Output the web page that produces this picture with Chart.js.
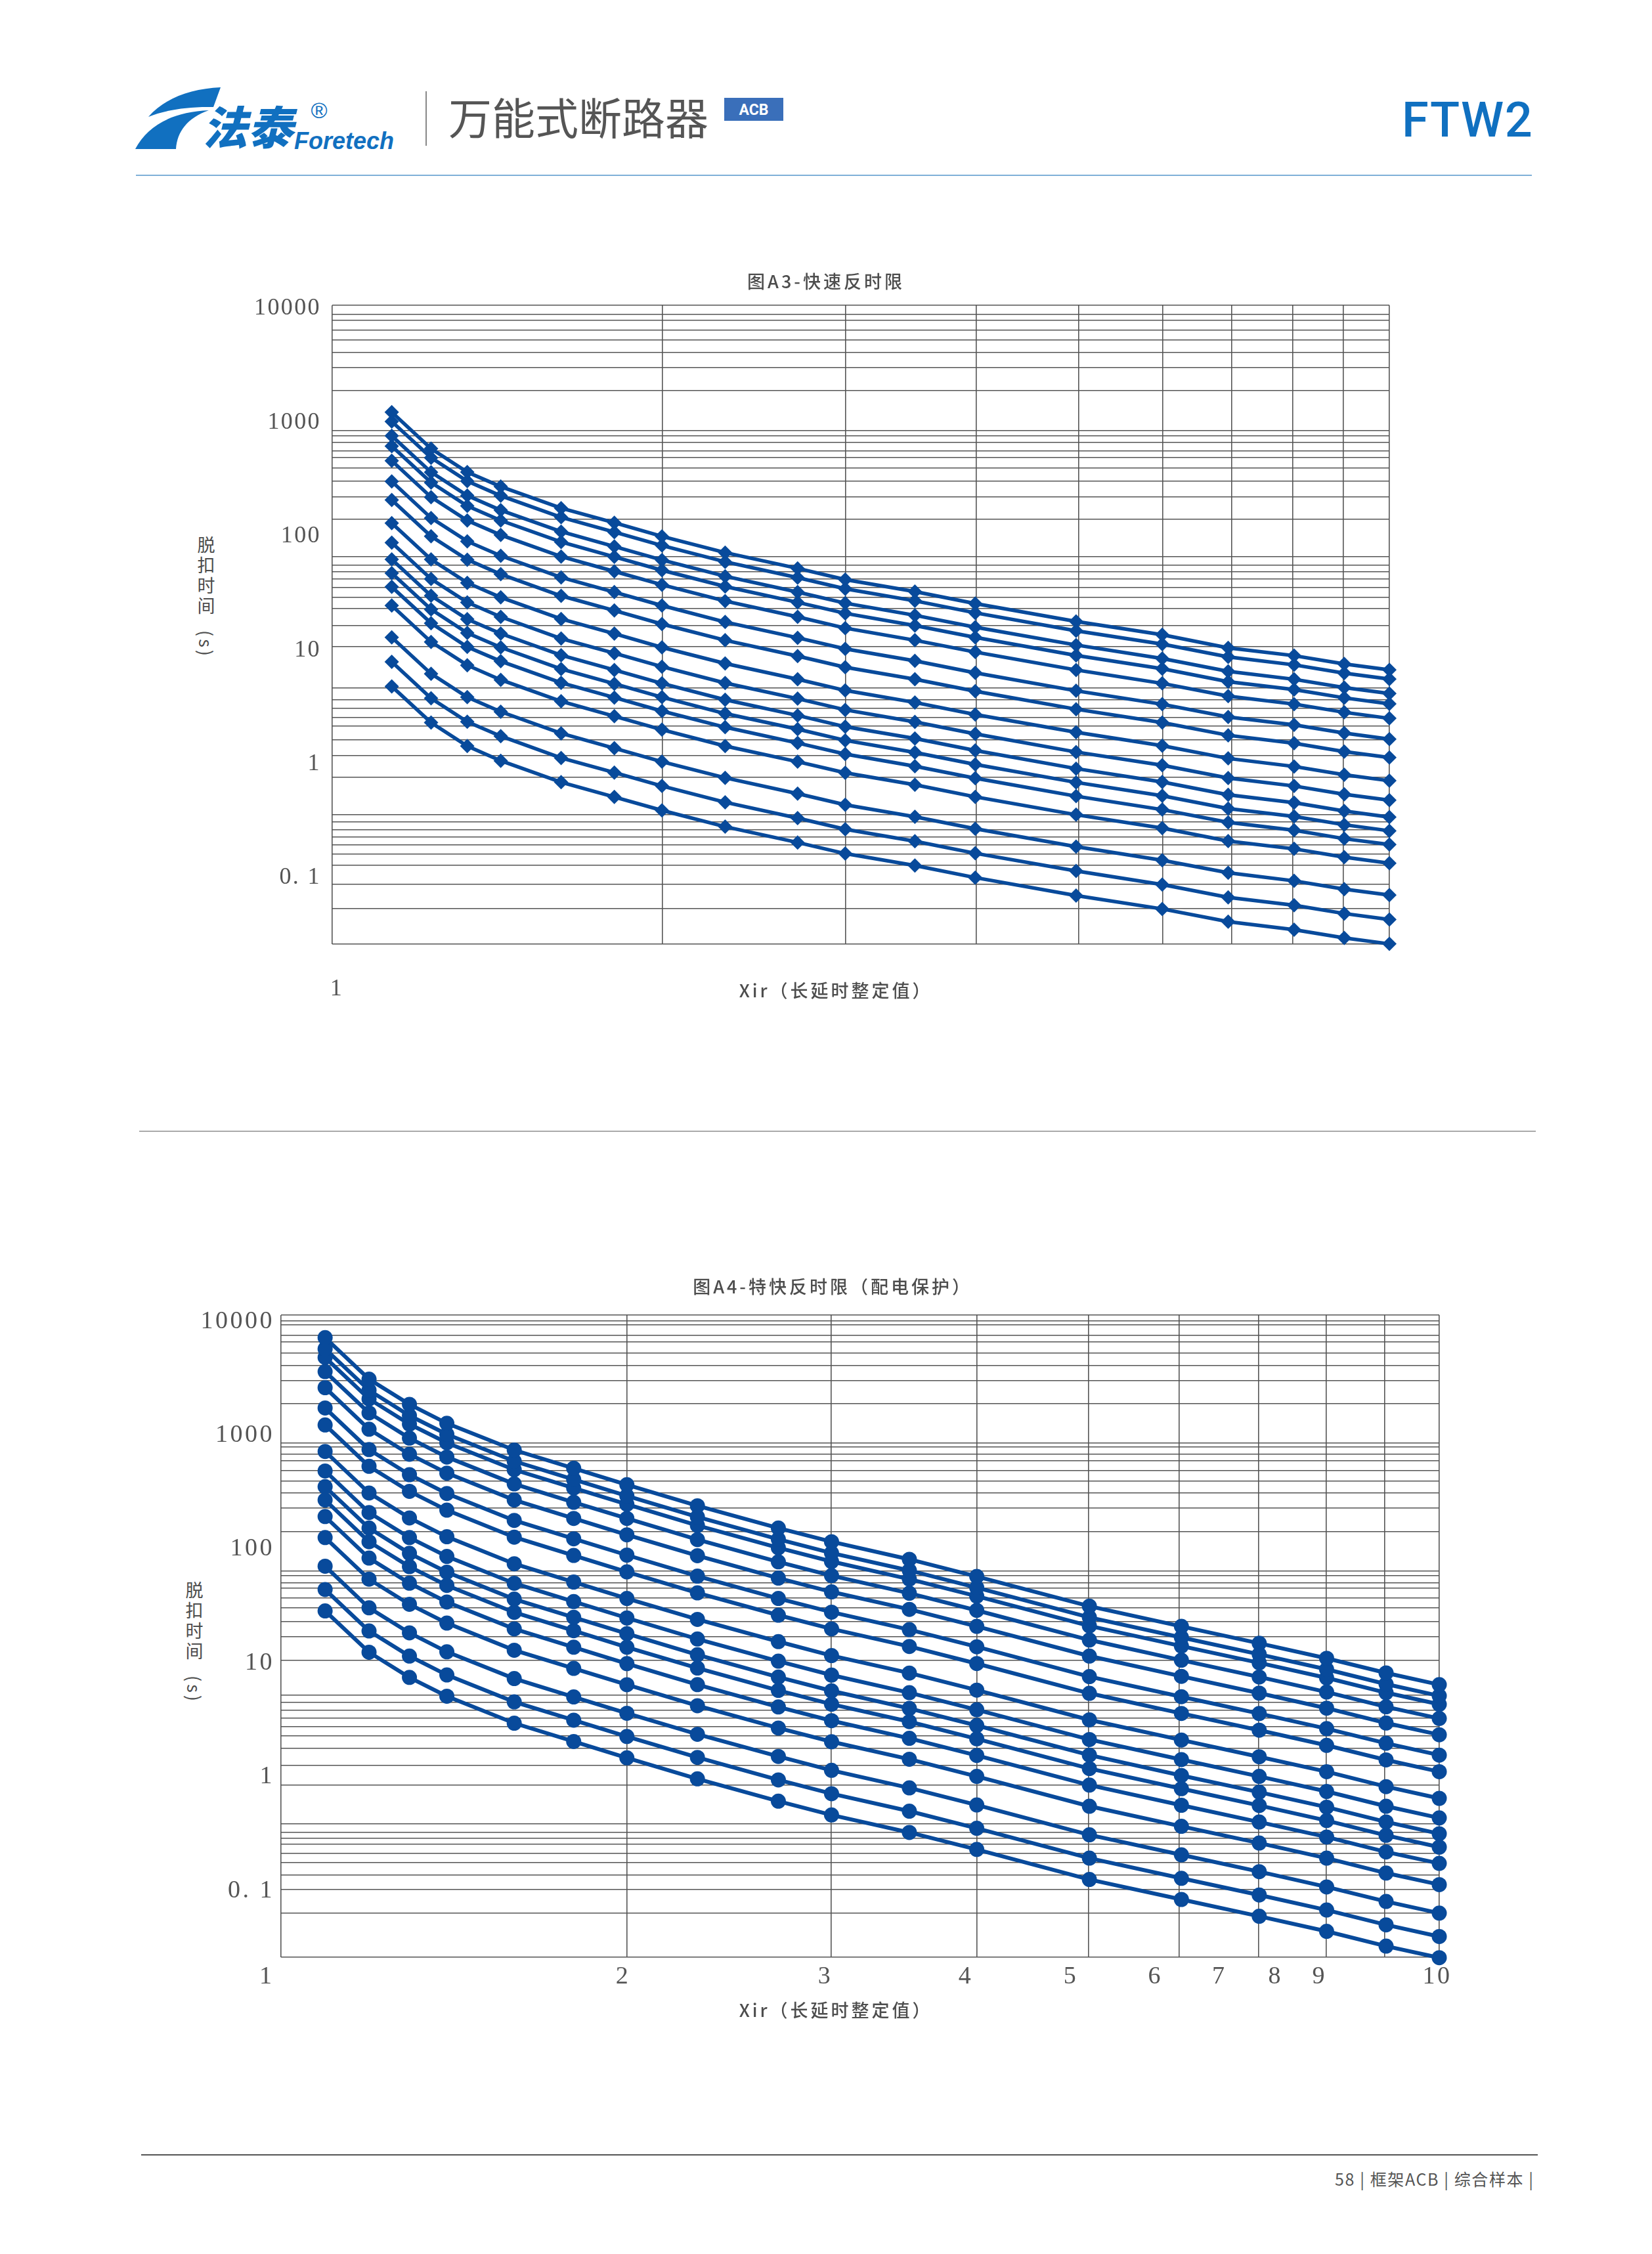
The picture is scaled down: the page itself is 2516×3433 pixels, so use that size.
<!DOCTYPE html>
<html lang="zh">
<head>
<meta charset="utf-8">
<title>FTW2 万能式断路器</title>
<script src="https://cdn.jsdelivr.net/npm/chart.js@4"></script>
<style>
  html, body { margin: 0; background: #fff; }
  #page { position: relative; width: 2516px; height: 3433px; overflow: hidden; }
  #page svg { position: absolute; left: 0; top: 0; }
  canvas { position: absolute; left: 0; }
</style>
</head>
<body>
<div id="page">
  <svg width="2516" height="3433" font-family="'Noto Sans CJK SC'">
    <!-- header -->
    <path d="M336 133 L325 163 C285 162 250 168 226 178 C250 150 290 135 336 133 Z" fill="#1170c0"/>
    <path d="M206 227 C225 190 265 170 318 168 C285 180 270 200 268 227 Z" fill="#1170c0"/>
    <text x="308" y="220" font-size="69" font-weight="900" font-style="italic" fill="#1170c0">法泰</text>
    <text x="448" y="227" font-size="36" font-weight="700" font-style="italic" font-family="'Liberation Sans'" fill="#1170c0">Foretech</text>
    <text x="486" y="180" font-size="34" text-anchor="middle" font-family="'Liberation Sans'" fill="#1170c0">®</text>
    <line x1="649" y1="139" x2="649" y2="222" stroke="#888" stroke-width="2"/>
    <text x="683" y="205" font-size="66" fill="#555">万能式断路器</text>
    <rect x="1103" y="149" width="90" height="35" fill="#3a6fba"/>
    <text x="1148" y="175" font-size="23" font-weight="700" text-anchor="middle" font-family="Roboto" fill="#fff">ACB</text>
    <text x="2135" y="208" font-size="74" font-weight="500" letter-spacing="1.5" font-family="Roboto" fill="#1070c0">FTW2</text>
    <line x1="207" y1="267" x2="2333" y2="267" stroke="#7fb0d8" stroke-width="2"/>
    <line x1="212" y1="1723" x2="2339" y2="1723" stroke="#aaa" stroke-width="2"/>
    <!-- vertical y axis titles -->
    <text x="314" y="816" font-size="27" letter-spacing="4" fill="#4d4d4d" style="white-space:pre;writing-mode:vertical-rl">脱扣时间  (s)</text>
    <text x="296" y="2408" font-size="27" letter-spacing="4" fill="#4d4d4d" style="white-space:pre;writing-mode:vertical-rl">脱扣时间  (s)</text>
    <!-- footer -->
    <line x1="215" y1="3282" x2="2342" y2="3282" stroke="#555" stroke-width="2"/>
    <text x="2033" y="3329" font-size="25" letter-spacing="1.6" fill="#555">58 | 框架ACB | 综合样本 |</text>
  </svg>
  <canvas id="chartA3" width="2516" height="1130" style="top:400px"></canvas>
  <canvas id="chartA4" width="2516" height="1150" style="top:1930px"></canvas>
</div>
<script>
// X values shared by reading: multiples of the long-delay setting
const a3X = [1.1, 1.2, 1.3, 1.4, 1.6, 1.8, 2, 2.3, 2.7, 3, 3.5, 4, 5, 6.05, 7, 8.1, 9.05, 10];
const a4X = [1.1, 1.2, 1.3, 1.4, 1.6, 1.8, 2, 2.3, 2.7, 3, 3.5, 4, 5, 6, 7, 8, 9, 10];

// Fig. A3 trip times, top curve to bottom curve (s)
const a3T1 = [1200, 574, 357, 266, 172, 128, 97.2, 70, 50.9, 40.6, 31.8, 25, 17.4, 13.3, 10.2, 8.71, 7.37, 6.53];
const a3T2 = [993, 477, 297, 221, 143, 106, 80.8, 58.1, 42.2, 33.7, 26.4, 20.7, 14.4, 11, 8.49, 7.23, 6.12, 5.42];
const a3T3 = [742, 356, 222, 165, 107, 79.2, 60.3, 43.4, 31.5, 25.2, 19.7, 15.5, 10.8, 8.22, 6.34, 5.4, 4.57, 4.05];
const a3T4 = [603, 289, 180, 134, 86.8, 64.3, 49, 35.3, 25.6, 20.5, 16, 12.6, 8.76, 6.68, 5.15, 4.39, 3.71, 3.29];
const a3T5 = [449, 215, 134, 99.9, 64.6, 47.9, 36.5, 26.3, 19.1, 15.2, 11.9, 9.37, 6.52, 4.97, 3.84, 3.27, 2.77, 2.45];
const a3T6 = [295, 141, 88, 65.6, 42.4, 31.5, 24, 17.2, 12.5, 10, 7.84, 6.15, 4.28, 3.26, 2.52, 2.15, 1.82, 1.61];
const a3T7 = [203, 97.5, 60.7, 45.2, 29.2, 21.7, 16.5, 11.9, 8.64, 6.89, 5.41, 4.24, 2.95, 2.25, 1.74, 1.48, 1.25, 1.11];
const a3T8 = [127, 61, 38, 28.3, 18.3, 13.6, 10.3, 7.44, 5.41, 4.31, 3.38, 2.65, 1.85, 1.41, 1.09, 0.926, 0.783, 0.694];
const a3T9 = [85.7, 41.1, 25.6, 19.1, 12.3, 9.15, 6.97, 5.01, 3.65, 2.91, 2.28, 1.79, 1.24, 0.95, 0.733, 0.624, 0.528, 0.468];
const a3T10 = [61.1, 29.3, 18.2, 13.6, 8.79, 6.52, 4.97, 3.57, 2.6, 2.07, 1.63, 1.28, 0.887, 0.677, 0.522, 0.445, 0.376, 0.333];
const a3T11 = [46.2, 22.2, 13.8, 10.3, 6.65, 4.93, 3.76, 2.7, 1.97, 1.57, 1.23, 0.965, 0.671, 0.512, 0.395, 0.337, 0.285, 0.252];
const a3T12 = [35, 16.8, 10.4, 7.78, 5.03, 3.73, 2.84, 2.05, 1.49, 1.19, 0.931, 0.73, 0.508, 0.387, 0.299, 0.255, 0.215, 0.191];
const a3T13 = [24, 11.5, 7.18, 5.34, 3.46, 2.56, 1.95, 1.4, 1.02, 0.815, 0.639, 0.501, 0.349, 0.266, 0.205, 0.175, 0.148, 0.131];
const a3T14 = [12.6, 6.04, 3.76, 2.8, 1.81, 1.34, 1.02, 0.736, 0.535, 0.427, 0.335, 0.263, 0.183, 0.139, 0.108, 0.0916, 0.0775, 0.0687];
const a3T15 = [7.68, 3.68, 2.29, 1.71, 1.1, 0.819, 0.624, 0.449, 0.326, 0.26, 0.204, 0.16, 0.112, 0.085, 0.0656, 0.0559, 0.0473, 0.0419];
const a3T16 = [4.68, 2.25, 1.4, 1.04, 0.674, 0.5, 0.381, 0.274, 0.199, 0.159, 0.125, 0.0978, 0.068, 0.0519, 0.0401, 0.0341, 0.0289, 0.0256];

// Fig. A4 trip times, top curve to bottom curve (s)
const a4T1 = [7010, 3030, 1820, 1240, 722, 499, 358, 234, 149, 113, 79.2, 56, 30.7, 20.4, 14.5, 10.7, 7.96, 6.28];
const a4T2 = [5590, 2420, 1450, 993, 576, 398, 286, 187, 119, 90, 63.2, 44.7, 24.5, 16.3, 11.6, 8.56, 6.35, 5.01];
const a4T3 = [4700, 2030, 1220, 836, 485, 335, 241, 157, 100, 75.8, 53.1, 37.6, 20.6, 13.7, 9.76, 7.2, 5.34, 4.22];
const a4T4 = [3530, 1530, 919, 627, 364, 251, 181, 118, 75.2, 56.9, 39.9, 28.2, 15.5, 10.3, 7.33, 5.41, 4.01, 3.17];
const a4T5 = [2550, 1100, 663, 453, 263, 181, 130, 85.2, 54.2, 41, 28.8, 20.4, 11.2, 7.43, 5.29, 3.9, 2.89, 2.28];
const a4T6 = [1690, 729, 439, 300, 174, 120, 86.3, 56.4, 35.9, 27.2, 19.1, 13.5, 7.39, 4.92, 3.5, 2.58, 1.92, 1.51];
const a4T7 = [1200, 520, 313, 214, 124, 85.6, 61.5, 40.2, 25.6, 19.4, 13.6, 9.62, 5.27, 3.51, 2.5, 1.84, 1.37, 1.08];
const a4T8 = [702, 303, 183, 125, 72.4, 50, 35.9, 23.5, 15, 11.3, 7.94, 5.62, 3.08, 2.05, 1.46, 1.08, 0.798, 0.63];
const a4T9 = [473, 204, 123, 84, 48.8, 33.7, 24.2, 15.8, 10.1, 7.62, 5.34, 3.78, 2.07, 1.38, 0.982, 0.724, 0.537, 0.424];
const a4T10 = [344, 149, 89.4, 61.1, 35.4, 24.5, 17.6, 11.5, 7.32, 5.54, 3.88, 2.75, 1.51, 1, 0.714, 0.527, 0.391, 0.308];
const a4T11 = [263, 113, 68.3, 46.7, 27.1, 18.7, 13.4, 8.78, 5.59, 4.23, 2.97, 2.1, 1.15, 0.766, 0.545, 0.402, 0.298, 0.235];
const a4T12 = [188, 81.2, 48.9, 33.4, 19.4, 13.4, 9.61, 6.28, 4, 3.03, 2.12, 1.5, 0.823, 0.548, 0.39, 0.288, 0.213, 0.169];
const a4T13 = [123, 53, 31.9, 21.8, 12.6, 8.73, 6.27, 4.1, 2.61, 1.98, 1.39, 0.982, 0.537, 0.358, 0.255, 0.188, 0.139, 0.11];
const a4T14 = [68.9, 29.7, 17.9, 12.2, 7.1, 4.9, 3.52, 2.3, 1.47, 1.11, 0.778, 0.551, 0.301, 0.201, 0.143, 0.105, 0.0782, 0.0618];
const a4T15 = [43, 18.6, 11.2, 7.64, 4.43, 3.06, 2.2, 1.44, 0.915, 0.692, 0.486, 0.344, 0.188, 0.125, 0.0892, 0.0658, 0.0488, 0.0385];
const a4T16 = [27.9, 12.1, 7.27, 4.97, 2.88, 1.99, 1.43, 0.935, 0.595, 0.45, 0.316, 0.224, 0.122, 0.0815, 0.058, 0.0428, 0.0317, 0.0251];

const a3Series = [a3T1, a3T2, a3T3, a3T4, a3T5, a3T6, a3T7, a3T8, a3T9, a3T10, a3T11, a3T12, a3T13, a3T14, a3T15, a3T16];
const a4Series = [a4T1, a4T2, a4T3, a4T4, a4T5, a4T6, a4T7, a4T8, a4T9, a4T10, a4T11, a4T12, a4T13, a4T14, a4T15, a4T16];

// Axis ranges
const a3XRange = [0.9643, 10];
const a3YRange = [0.025604, 10406];
const a4XRange = [1.008, 10];
const a4YRange = [0.025333, 11062];

// The printed grid does not line up with the printed tick labels, so both are kept as read
const a3XGrid = [0.9643, 2.003, 3.004, 4.007, 5.03, 6.06, 7.05, 8.08, 9.03, 10];
const a4XGrid = [1.008, 2, 2.998, 4, 4.99, 5.97, 6.99, 7.99, 8.97, 10];
const a3YGrid = [10406, 8652, 7647, 6266, 5155, 4011, 2963, 1862, 827, 737.8, 652.1, 545.1, 477.3, 385.4, 296.7, 217.2, 137.7,
  64.18, 54.36, 47.41, 40.91, 34.66, 28.25, 22.6, 16.07, 10.52, 4.52, 3.568, 3.007, 2.507, 2.109, 1.587, 1.153, 0.7487,
  0.3475, 0.3015, 0.2577, 0.2224, 0.1899, 0.1577, 0.1258, 0.08527, 0.05217, 0.025604];
const a4YGrid = [11062, 9842, 9124, 7368, 6460, 5114, 3984, 2951, 1849, 829.2, 767.8, 662.6, 580.9, 478.6, 382.9, 301.5, 223.3, 139.2,
  62.74, 56.95, 49.41, 44.13, 36.4, 29.55, 22.36, 16.48, 10.24, 5.047, 4.378, 3.738, 3.213, 2.7, 2.227, 1.737, 1.229, 0.8227,
  0.3778, 0.3162, 0.2814, 0.248, 0.2076, 0.1719, 0.1334, 0.09987, 0.06192, 0.025333];

// Tick labels
const yTickValues = [10000, 1000, 100, 10, 1, 0.1];
const yTickLabels = ['10000', '1000', '100', '10', '1', '0. 1'];
const a3XTickValues = [0.974];
const a3XTickLabels = ['1'];
const a4XTickValues = [0.98, 1.985, 2.963, 3.914, 4.82, 5.7, 6.47, 7.23, 7.89, 9.96];
const a4XTickLabels = ['1', '2', '3', '4', '5', '6', '7', '8', '9', '10'];

const INK = '#555';
const GRID = '#555';
const CURVE = '#084a9b';

const textSpacing = {
  id: 'textSpacing',
  beforeDraw(chart, args, opts) { chart.ctx.letterSpacing = opts.title; },
  afterDatasetsDraw(chart, args, opts) { chart.ctx.letterSpacing = opts.ticks; },
};

const setTicks = values => scale => { scale.ticks = values.map(value => ({ value })); };

function curveChart(canvasId, c) {
  const datasets = c.series.map(s => ({
    data: s.map((y, i) => ({ x: c.x[i], y })),
    borderColor: CURVE,
    backgroundColor: CURVE,
    borderWidth: c.lineWidth,
    pointStyle: c.point,
    pointRadius: c.pointRadius,
    pointBorderWidth: 0,
    tension: 0,
    clip: false,
  }));
  const titleFont = { family: "'Noto Sans CJK SC'", size: 27, weight: 500, lineHeight: 1.2 };
  const tickFont = { family: "'Liberation Serif'", size: c.tickSize, lineHeight: 1 };
  const log = { type: 'logarithmic', bounds: 'data' };
  const xRange = { min: c.xRange[0], max: c.xRange[1] };
  const yRange = { min: c.yRange[0], max: c.yRange[1] };

  return new Chart(document.getElementById(canvasId), {
    type: 'line',
    data: { datasets },
    plugins: [textSpacing],
    options: {
      responsive: false,
      animation: false,
      layout: { padding: { top: c.padTop, left: 0, right: 0, bottom: 0 } },
      plugins: {
        legend: { display: false },
        tooltip: { enabled: false },
        textSpacing: { title: '4px', ticks: c.tickSpacing },
        title: { display: true, text: c.title, color: '#4d4d4d', font: titleFont, padding: { top: 0, bottom: c.titleGap } },
        subtitle: { display: true, position: 'bottom', text: c.xTitle, color: '#4d4d4d', font: titleFont, padding: { top: c.xTitleGap, bottom: c.xTitleEnd } },
      },
      scales: {
        x: {
          ...log, ...xRange, position: 'bottom',
          border: { display: false },
          grid: { color: GRID, lineWidth: 1.6, drawTicks: false },
          ticks: { display: false, autoSkip: false },
          afterBuildTicks: setTicks(c.xGrid),
          afterFit: s => { s.height = 0; },
        },
        xLabels: {
          ...log, ...xRange, position: 'bottom',
          border: { display: false },
          grid: { display: false, drawTicks: false },
          ticks: {
            autoSkip: false, maxRotation: 0, minRotation: 0, z: 1,
            padding: c.xTickGap, color: INK, font: tickFont,
            callback: (v, i) => c.xLabels[i],
          },
          afterBuildTicks: setTicks(c.xTicks),
          afterFit: s => { s.height = c.xLabelBand; },
        },
        y: {
          ...log, ...yRange, position: 'left',
          border: { display: false },
          grid: { display: false, drawTicks: false },
          ticks: {
            autoSkip: false, z: 1, labelOffset: 2,
            padding: c.yTickGap, color: INK, font: tickFont,
            callback: (v, i) => yTickLabels[i],
          },
          afterBuildTicks: setTicks(yTickValues),
          afterFit: s => { s.width = c.plotLeft; },
        },
        yGrid: {
          ...log, ...yRange, position: 'right',
          border: { display: false },
          grid: { color: GRID, lineWidth: 1.6, drawTicks: false },
          ticks: { display: false, autoSkip: false },
          afterBuildTicks: setTicks(c.yGrid),
          afterFit: s => { s.width = c.plotRight; },
        },
      },
    },
  });
}

curveChart('chartA3', {
  title: '图A3-快速反时限',
  xTitle: '\u00a0\u00a0\u00a0Xir（长延时整定值）',
  x: a3X, series: a3Series,
  xRange: a3XRange, yRange: a3YRange,
  xGrid: a3XGrid, yGrid: a3YGrid,
  xTicks: a3XTickValues, xLabels: a3XTickLabels,
  point: 'rectRot', pointRadius: 11, lineWidth: 5.5,
  tickSize: 36, tickSpacing: '2.4px',
  plotLeft: 506, plotRight: 400,
  padTop: 13, titleGap: 19.6, xLabelBand: 90, xTitleGap: -34.8, xTitleEnd: 4.8,
  xTickGap: 51, yTickGap: 17,
});

curveChart('chartA4', {
  title: '\u00a0\u00a0图A4-特快反时限（配电保护）',
  xTitle: '\u00a0\u00a0\u00a0Xir（长延时整定值）',
  x: a4X, series: a4Series,
  xRange: a4XRange, yRange: a4YRange,
  xGrid: a4XGrid, yGrid: a4YGrid,
  xTicks: a4XTickValues, xLabels: a4XTickLabels,
  point: 'circle', pointRadius: 11.5, lineWidth: 6,
  tickSize: 38, tickSpacing: '3.5px',
  plotLeft: 428, plotRight: 324,
  padTop: 13.8, titleGap: 26.8, xLabelBand: 50, xTitleGap: 14.8, xTitleEnd: 1.8,
  xTickGap: 11, yTickGap: 10,
});
</script>
</body>
</html>
